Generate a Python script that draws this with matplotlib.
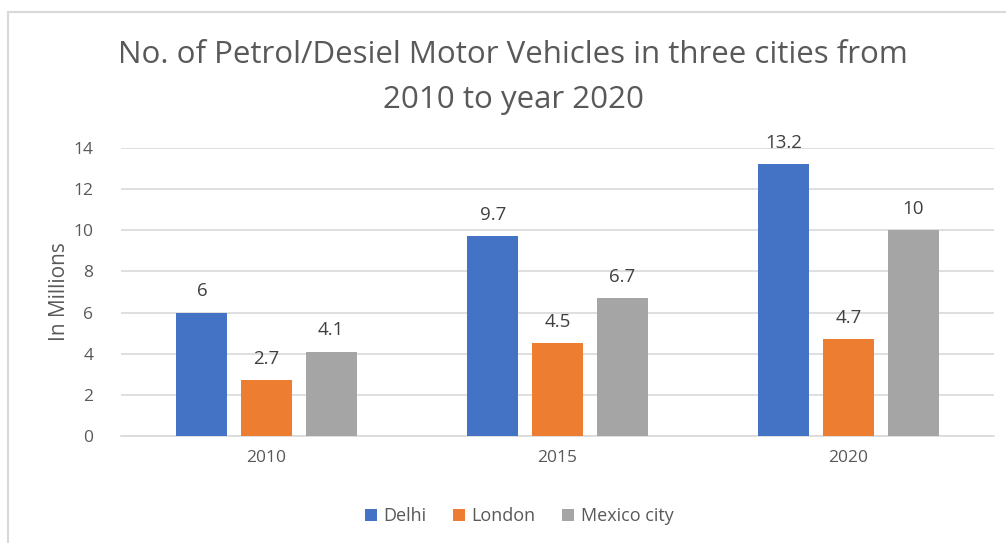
import matplotlib
matplotlib.use("Agg")
import matplotlib.pyplot as plt
from matplotlib.patches import Rectangle
import numpy as np

years = ["2010", "2015", "2020"]
series_names = ["Delhi", "London", "Mexico city"]
delhi = [6, 9.7, 13.2]
london = [2.7, 4.5, 4.7]
mexico = [4.1, 6.7, 10]
colors = ["#4472C4", "#ED7D31", "#A5A5A5"]
yticks = [0, 2, 4, 6, 8, 10, 12, 14]

plt.rcParams['font.family'] = ['Open Sans', 'DejaVu Sans']
fig = plt.figure(figsize=(10.06, 5.43), dpi=100)
fig.patches.append(Rectangle((8/1006, -0.1), 1.1, 1 - 12/543 + 0.1, transform=fig.transFigure,
                             fill=False, edgecolor="#D9D9D9", linewidth=1.5))
ax = fig.add_axes([121/1006, 1 - 436/543, (994 - 121)/1006, (436 - 148)/543])

x = np.arange(len(years))
w = 0.175
pitch = 0.222
for i, (vals, name) in enumerate(zip([delhi, london, mexico], series_names)):
    pos = x + (i - 1) * pitch
    ax.bar(pos, vals, width=w, color=colors[i], label=name, zorder=3)
    for p, v in zip(pos, vals):
        ax.text(p, v + 0.6, f"{v:g}", ha="center", va="bottom", fontsize=13.5, color="#404040")

ax.set_xlim(-0.5, 2.5)
ax.set_ylim(0, 14)
ax.set_yticks(yticks)
ax.set_yticklabels([str(t) for t in yticks])
ax.set_xticks(x)
ax.set_xticklabels(years)
ax.yaxis.grid(True, color="#D9D9D9", linewidth=1.2, zorder=0)
for s in ["top", "right", "left"]:
    ax.spines[s].set_visible(False)
ax.spines["bottom"].set_color("#D9D9D9")
ax.spines["bottom"].set_linewidth(1.2)
ax.tick_params(axis="both", length=0, colors="#595959", labelsize=12.5)
ax.tick_params(axis="y", pad=20)
ax.tick_params(axis="x", pad=10)
ax.set_ylabel("In Millions", fontsize=15, color="#595959", labelpad=2)

fig.text(0.51, 1 - 55/543, "No. of Petrol/Desiel Motor Vehicles in three cities from",
         ha="center", va="center", fontsize=22.5, color="#595959")
fig.text(0.51, 1 - 100/543, "2010 to year 2020",
         ha="center", va="center", fontsize=22.5, color="#595959")

fig.legend(loc="center", bbox_to_anchor=(0.516, 1 - 516/543), ncol=3, frameon=False,
           fontsize=13, handlelength=0.65, handleheight=0.65, columnspacing=1.5,
           handletextpad=0.35, labelcolor="#595959")

fig.savefig("out.png", dpi=100)
